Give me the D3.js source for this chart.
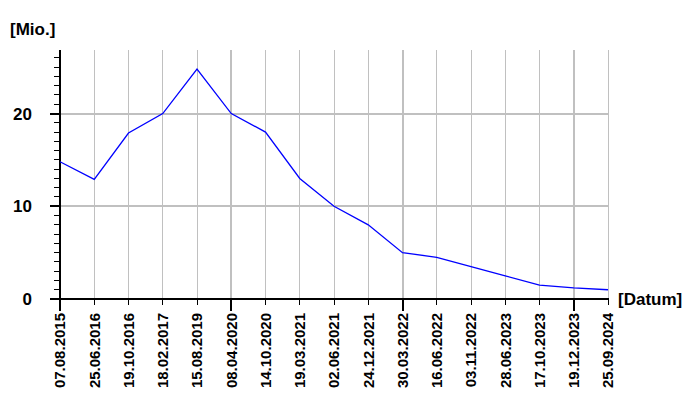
<!DOCTYPE html>
<html>
<head>
<meta charset="utf-8">
<script src="https://cdn.jsdelivr.net/npm/d3@7/dist/d3.min.js"></script>
<style>
  html, body { margin: 0; padding: 0; background: #fff; }
  svg { display: block; }
  text { font-family: "Liberation Sans", Arial, sans-serif; fill: #000; }
</style>
</head>
<body>
<svg id="chart" width="700" height="400"></svg>
<script>
const categories = ["07.08.2015","25.06.2016","19.10.2016","18.02.2017","15.08.2019","08.04.2020","14.10.2020","19.03.2021","02.06.2021","24.12.2021","30.03.2022","16.06.2022","03.11.2022","28.06.2023","17.10.2023","19.12.2023","25.09.2024"];
const values = [14.8, 12.9, 17.9, 20, 24.8, 20, 18, 13, 10, 8, 5, 4.5, 3.5, 2.5, 1.5, 1.2, 1.0];
const yTicks = [0, 10, 20];
const yMinorTicks = d3.range(0, 27, 1);
const yLabel = "[Mio.]";
const xLabel = "[Datum]";

const svg = d3.select("#chart");
const x = d3.scalePoint().domain(categories).range([60, 608]);
const y = d3.scaleLinear().domain([0, 26.85]).range([299, 50]);
const isMajorX = (d, i) => i % 5 === 0;

// vertical grid
svg.append("g").selectAll("line").data(categories).join("line")
  .attr("x1", d => x(d)).attr("x2", d => x(d))
  .attr("y1", y(0)).attr("y2", 50)
  .attr("stroke", "#c0c0c0")
  .attr("stroke-width", (d, i) => isMajorX(d, i) && i > 0 ? 2 : 1)
  .attr("shape-rendering", "crispEdges");

// horizontal grid
svg.append("g").selectAll("line").data(yTicks.filter(t => t > 0)).join("line")
  .attr("x1", 60).attr("x2", 608)
  .attr("y1", d => y(d)).attr("y2", d => y(d))
  .attr("stroke", "#c0c0c0").attr("stroke-width", 2)
  .attr("shape-rendering", "crispEdges");

// y minor ticks
svg.append("g").selectAll("line").data(yMinorTicks.filter(t => !yTicks.includes(t))).join("line")
  .attr("x1", 54).attr("x2", 60)
  .attr("y1", d => y(d)).attr("y2", d => y(d))
  .attr("stroke", "#000").attr("stroke-width", 1)
  .attr("shape-rendering", "crispEdges");

// y major ticks
svg.append("g").selectAll("line").data(yTicks).join("line")
  .attr("x1", 50).attr("x2", 60)
  .attr("y1", d => y(d)).attr("y2", d => y(d))
  .attr("stroke", "#000").attr("stroke-width", 2)
  .attr("shape-rendering", "crispEdges");

// y tick labels
svg.append("g").selectAll("text").data(yTicks).join("text")
  .attr("x", 32).attr("y", d => y(d)).attr("dy", "0.36em")
  .attr("text-anchor", "end")
  .style("font-size", "17px").style("font-weight", "bold")
  .text(d => d);

// x ticks
svg.append("g").selectAll("line").data(categories).join("line")
  .attr("x1", d => x(d)).attr("x2", d => x(d))
  .attr("y1", 299).attr("y2", (d, i) => isMajorX(d, i) ? 311 : 305)
  .attr("stroke", "#000")
  .attr("stroke-width", (d, i) => isMajorX(d, i) ? 2 : 1)
  .attr("shape-rendering", "crispEdges");

// x tick labels
svg.append("g").selectAll("text").data(categories).join("text")
  .attr("transform", d => `translate(${x(d)},313) rotate(-90)`)
  .attr("text-anchor", "end").attr("dy", "0.36em")
  .style("font-size", "15px").style("font-weight", "bold")
  .text(d => d);

// axes
svg.append("line").attr("x1", 60).attr("x2", 60).attr("y1", 50).attr("y2", 300)
  .attr("stroke", "#000").attr("stroke-width", 2).attr("shape-rendering", "crispEdges");
svg.append("line").attr("x1", 50).attr("x2", 609).attr("y1", y(0)).attr("y2", y(0))
  .attr("stroke", "#000").attr("stroke-width", 2).attr("shape-rendering", "crispEdges");

// data line
const line = d3.line().x((d, i) => x(categories[i])).y(d => y(d));
svg.append("path").datum(values)
  .attr("d", line)
  .attr("fill", "none").attr("stroke", "#0000ff").attr("stroke-width", 1.3);

// axis labels
svg.append("text").attr("x", 10).attr("y", 35)
  .style("font-size", "17px").style("font-weight", "bold").text(yLabel);
svg.append("text").attr("x", 618).attr("y", 305)
  .style("font-size", "17px").style("font-weight", "bold").text(xLabel);
</script>
</body>
</html>
